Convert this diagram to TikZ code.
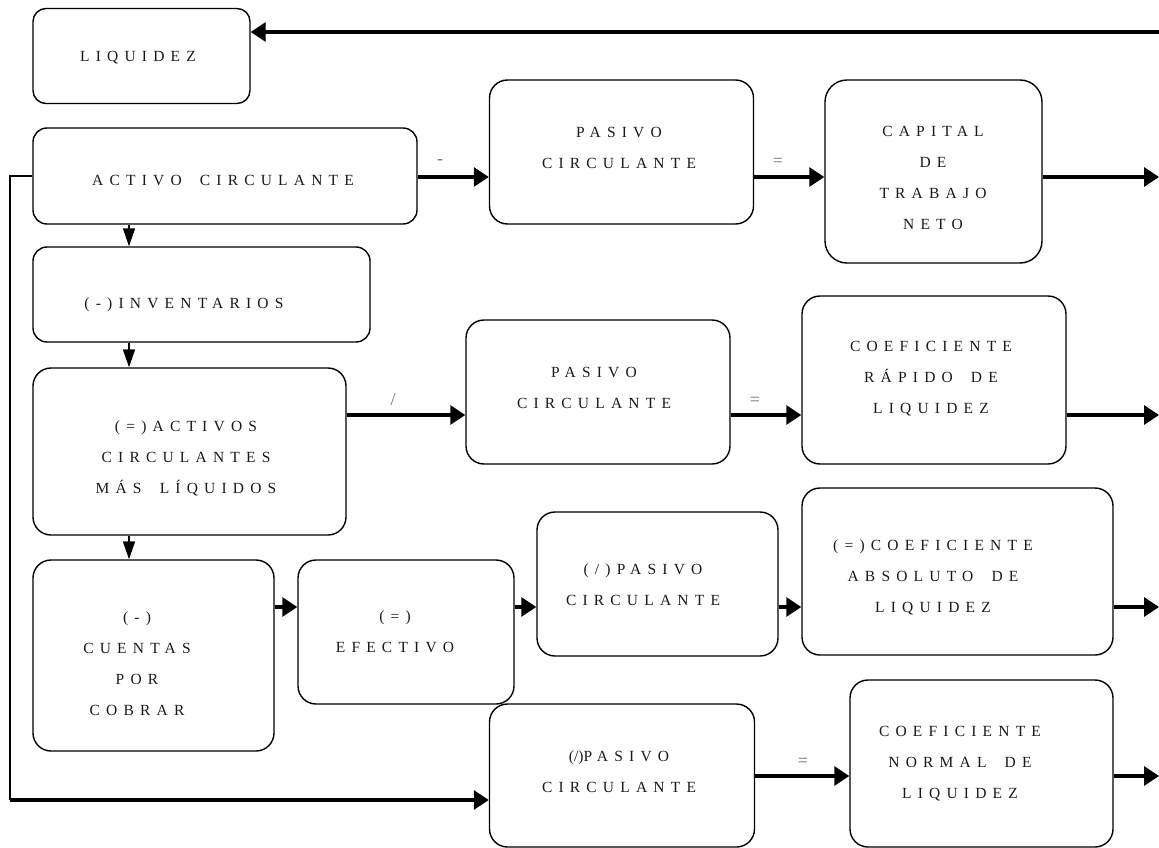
\documentclass[tikz,border=0pt]{standalone}
\usepackage{fontspec}
\setmainfont{Liberation Serif}[LetterSpace=40, WordSpace=1.8]
\usetikzlibrary{arrows.meta}
\newcommand\tight[1]{{\addfontfeature{LetterSpace=0}#1}}

\begin{document}
\begin{tikzpicture}[x=1pt,y=-1pt,
  box/.style={draw, line width=1.4pt, rounded corners=#1, inner sep=0pt},
  box/.default=18pt,
  txt/.style={align=center, font=\fontsize{15.5}{31}\selectfont, text=black!90, inner sep=0pt},
  op/.style={font=\fontsize{18}{20}\selectfont, text=black!55, inner sep=0pt},
  flow/.style={line width=3.2pt, -{Triangle[length=15pt,width=19pt]}},
  down/.style={line width=1.5pt, -{Triangle[length=18pt,width=12pt]}},
  link/.style={line width=1.5pt},
]
\useasboundingbox (0,0) rectangle (1159,848);

% boxes
\node[box=13pt, minimum width=217pt, minimum height=95pt]  (liq)  at (141.5,56)  {};
\node[box=14pt, minimum width=384pt, minimum height=96pt]  (act)  at (225,176)   {};
\node[box,      minimum width=264pt, minimum height=144pt] (pas1) at (621.5,152) {};
\node[box=22pt, minimum width=217pt, minimum height=183pt] (cap)  at (933.5,171.5) {};
\node[box=14pt, minimum width=337pt, minimum height=95pt]  (inv)  at (201.5,294.5) {};
\node[box,      minimum width=313pt, minimum height=167pt] (amas) at (189.5,451.5) {};
\node[box,      minimum width=264pt, minimum height=144pt] (pas2) at (598,392)   {};
\node[box,      minimum width=264pt, minimum height=168pt] (rap)  at (934,380)   {};
\node[box,      minimum width=241pt, minimum height=191pt] (cue)  at (153.5,655.5) {};
\node[box,      minimum width=216pt, minimum height=144pt] (efe)  at (406,632)   {};
\node[box,      minimum width=241pt, minimum height=144pt] (pas3) at (657.5,584) {};
\node[box,      minimum width=311pt, minimum height=167pt] (abs)  at (957.5,571.5) {};
\node[box,      minimum width=265pt, minimum height=143pt] (pas4) at (622,775.5) {};
\node[box,      minimum width=263pt, minimum height=167pt] (nor)  at (981.5,763.5) {};

% box texts
\node[txt] (liq-t)  at (138,58)    {LIQUIDEZ};
\node[txt] (act-t)  at (223,180)   {ACTIVO CIRCULANTE};
\node[txt] (pas1-t) at (619,147.5) {PASIVO\\CIRCULANTE};
\node[txt] (cap-t)  at (933,177.5) {CAPITAL\\DE\\TRABAJO\\NETO};
\node[txt] (inv-t)  at (184,305)   {(-)INVENTARIOS};
\node[txt] (amas-t) at (186,458)   {(=)ACTIVOS\\CIRCULANTES\\MÁS LÍQUIDOS};
\node[txt] (pas2-t) at (594,387.5) {PASIVO\\CIRCULANTE};
\node[txt] (rap-t)  at (931,379)   {COEFICIENTE\\RÁPIDO DE\\LIQUIDEZ};
\node[txt] (cue-t)  at (137,664)   {(-)\\CUENTAS\\POR\\COBRAR};
\node[txt] (efe-t)  at (395,632)   {(=)\\EFECTIVO};
\node[txt] (pas3-t) at (643,585)   {(/)PASIVO\\CIRCULANTE};
\node[txt] (abs-t)  at (933,577)   {(=)COEFICIENTE\\ABSOLUTO DE\\LIQUIDEZ};
\node[txt] (pas4-t) at (619,772)   {\tight{(/)}PASIVO\\CIRCULANTE};
\node[txt] (nor-t)  at (960,764)   {COEFICIENTE\\NORMAL DE\\LIQUIDEZ};

% free ends on the right margin and the left return line
\coordinate (e0) at (1159,32);
\coordinate (r1) at (1159,177);
\coordinate (r2) at (1159,415);
\coordinate (r3) at (1159,607);
\coordinate (r4) at (1159,776);
\coordinate (col) at (129,0);
\coordinate (lp) at (10,800);

% feedback to LIQUIDEZ
\draw[flow] (e0) -- (e0 -| liq.east);

% row 1: capital de trabajo neto
\draw[flow] (act.east |- r1) -- (r1 -| pas1.west);
\draw[flow] (pas1.east |- r1) -- (r1 -| cap.west);
\draw[flow] (cap.east |- r1) -- (r1);
\node[op] (op1) at (440,162) {-};
\node[op] (op2) at (778,162) {=};

% vertical chain of the current assets
\draw[down] (act.south -| col) -- (inv.north -| col);
\draw[down] (inv.south -| col) -- (amas.north -| col);
\draw[down] (amas.south -| col) -- (cue.north -| col);

% row 2: quick ratio
\draw[flow] (amas.east |- r2) -- (r2 -| pas2.west);
\draw[flow] (pas2.east |- r2) -- (r2 -| rap.west);
\draw[flow] (rap.east |- r2) -- (r2);
\node[op] (op3) at (393,400) {/};
\node[op] (op4) at (755,401) {=};

% row 3: absolute ratio
\draw[flow] (cue.east |- r3) -- (r3 -| efe.west);
\draw[flow] (efe.east |- r3) -- (r3 -| pas3.west);
\draw[flow] (pas3.east |- r3) -- (r3 -| abs.west);
\draw[flow] (abs.east |- r3) -- (r3);

% row 4: normal ratio, fed from ACTIVO CIRCULANTE
\draw[link] (act.west) -- (act.west -| lp) -- (lp);
\draw[flow] (lp) -- (lp -| pas4.west);
\draw[flow] (pas4.east |- r4) -- (r4 -| nor.west);
\draw[flow] (nor.east |- r4) -- (r4);
\node[op] (op5) at (803,762) {=};
\end{tikzpicture}
\end{document}
